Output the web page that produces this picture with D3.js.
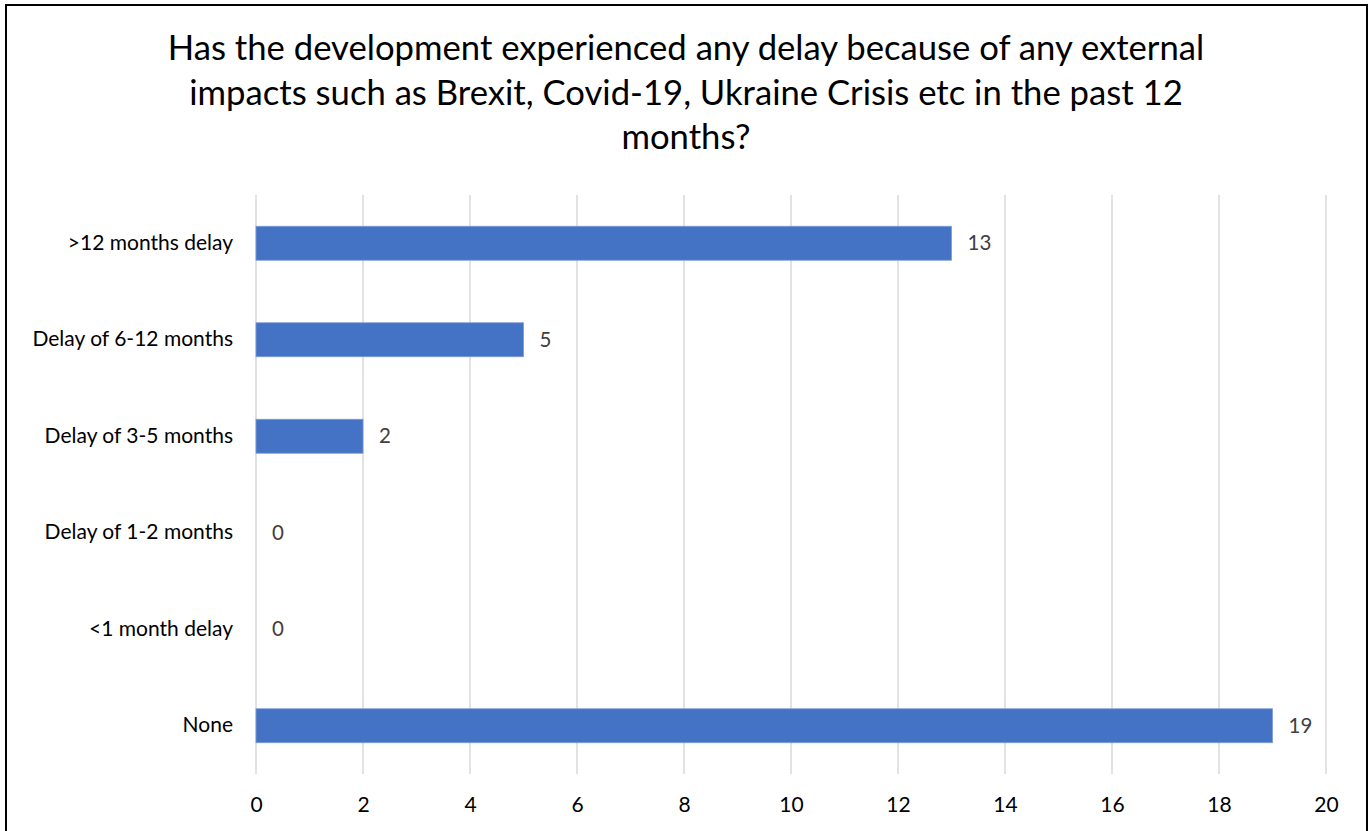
<!DOCTYPE html>
<html>
<head>
<meta charset="utf-8">
<script src="https://cdn.jsdelivr.net/npm/d3@7"></script>
<style>
  html, body { margin: 0; padding: 0; background: #fff; }
  svg { display: block; }
  text { font-family: Lato, "Open Sans", sans-serif; }
</style>
</head>
<body>
<svg id="chart" width="1372" height="831"></svg>
<script>
const titleLines = [
  "Has the development experienced any delay because of any external",
  "impacts such as Brexit, Covid-19, Ukraine Crisis etc in the past 12",
  "months?"
];
const categories = [">12 months delay", "Delay of 6-12 months", "Delay of 3-5 months", "Delay of 1-2 months", "<1 month delay", "None"];
const values = [13, 5, 2, 0, 0, 19];
const xTicks = [0, 2, 4, 6, 8, 10, 12, 14, 16, 18, 20];

const W = 1372, H = 831;
const margin = { left: 256, right: 46, top: 195, bottom: 57 };
const svg = d3.select("#chart");

svg.append("rect").attr("x", 6).attr("y", 5).attr("width", 1361).attr("height", 840)
  .attr("fill", "#fff").attr("stroke", "#000").attr("stroke-width", 2);

// Title
const title = svg.append("text").attr("text-anchor", "middle").attr("fill", "#000");
titleLines.forEach((t, i) => {
  title.append("tspan").attr("x", W / 2).attr("y", 60 + i * 44.5).text(t);
});
title.attr("font-size", 30);
const measured = title.select("tspan").node().getComputedTextLength();
title.attr("font-size", 30 * 1037 / measured);

const x = d3.scaleLinear().domain([0, 20]).range([margin.left, W - margin.right]);
const y = d3.scaleBand().domain(categories).range([margin.top, H - margin.bottom]).paddingInner(0).paddingOuter(0);
const barH = y.bandwidth() * 0.352;

// Gridlines
svg.append("g").selectAll("line").data(xTicks).join("line")
  .attr("x1", d => x(d)).attr("x2", d => x(d))
  .attr("y1", margin.top).attr("y2", H - margin.bottom)
  .attr("stroke", "#d9d9d9").attr("stroke-width", 1.5);

// Bars
svg.append("g").selectAll("rect").data(categories).join("rect")
  .attr("x", x(0)).attr("y", (d) => y(d) + y.bandwidth() / 2 - barH / 2)
  .attr("width", (d, i) => x(values[i]) - x(0)).attr("height", barH)
  .attr("fill", "#4472c4").attr("stroke", (d, i) => values[i] > 0 ? "#7b9bd6" : "none").attr("stroke-width", 0.8);

// Data labels
svg.append("g").selectAll("text").data(categories).join("text")
  .attr("x", (d, i) => x(values[i]) + 16)
  .attr("y", d => y(d) + y.bandwidth() / 2)
  .attr("dy", "0.35em").attr("font-size", 20.5).attr("fill", "#404040")
  .text((d, i) => values[i]);

// Category axis
const yAxis = d3.axisLeft(y).tickSize(0).tickPadding(23);
const gy = svg.append("g").attr("transform", `translate(${x(0)},0)`).call(yAxis);
gy.select(".domain").remove();
gy.selectAll("text").attr("font-size", 21).attr("fill", "#000").attr("font-family", "Lato, sans-serif");

// Value axis
const xAxis = d3.axisBottom(x).tickValues(xTicks).tickSize(0).tickPadding(23);
const gx = svg.append("g").attr("transform", `translate(0,${H - margin.bottom})`).call(xAxis);
gx.select(".domain").remove();
gx.selectAll("text").attr("font-size", 21).attr("fill", "#000").attr("font-family", "Lato, sans-serif");
</script>
</body>
</html>
